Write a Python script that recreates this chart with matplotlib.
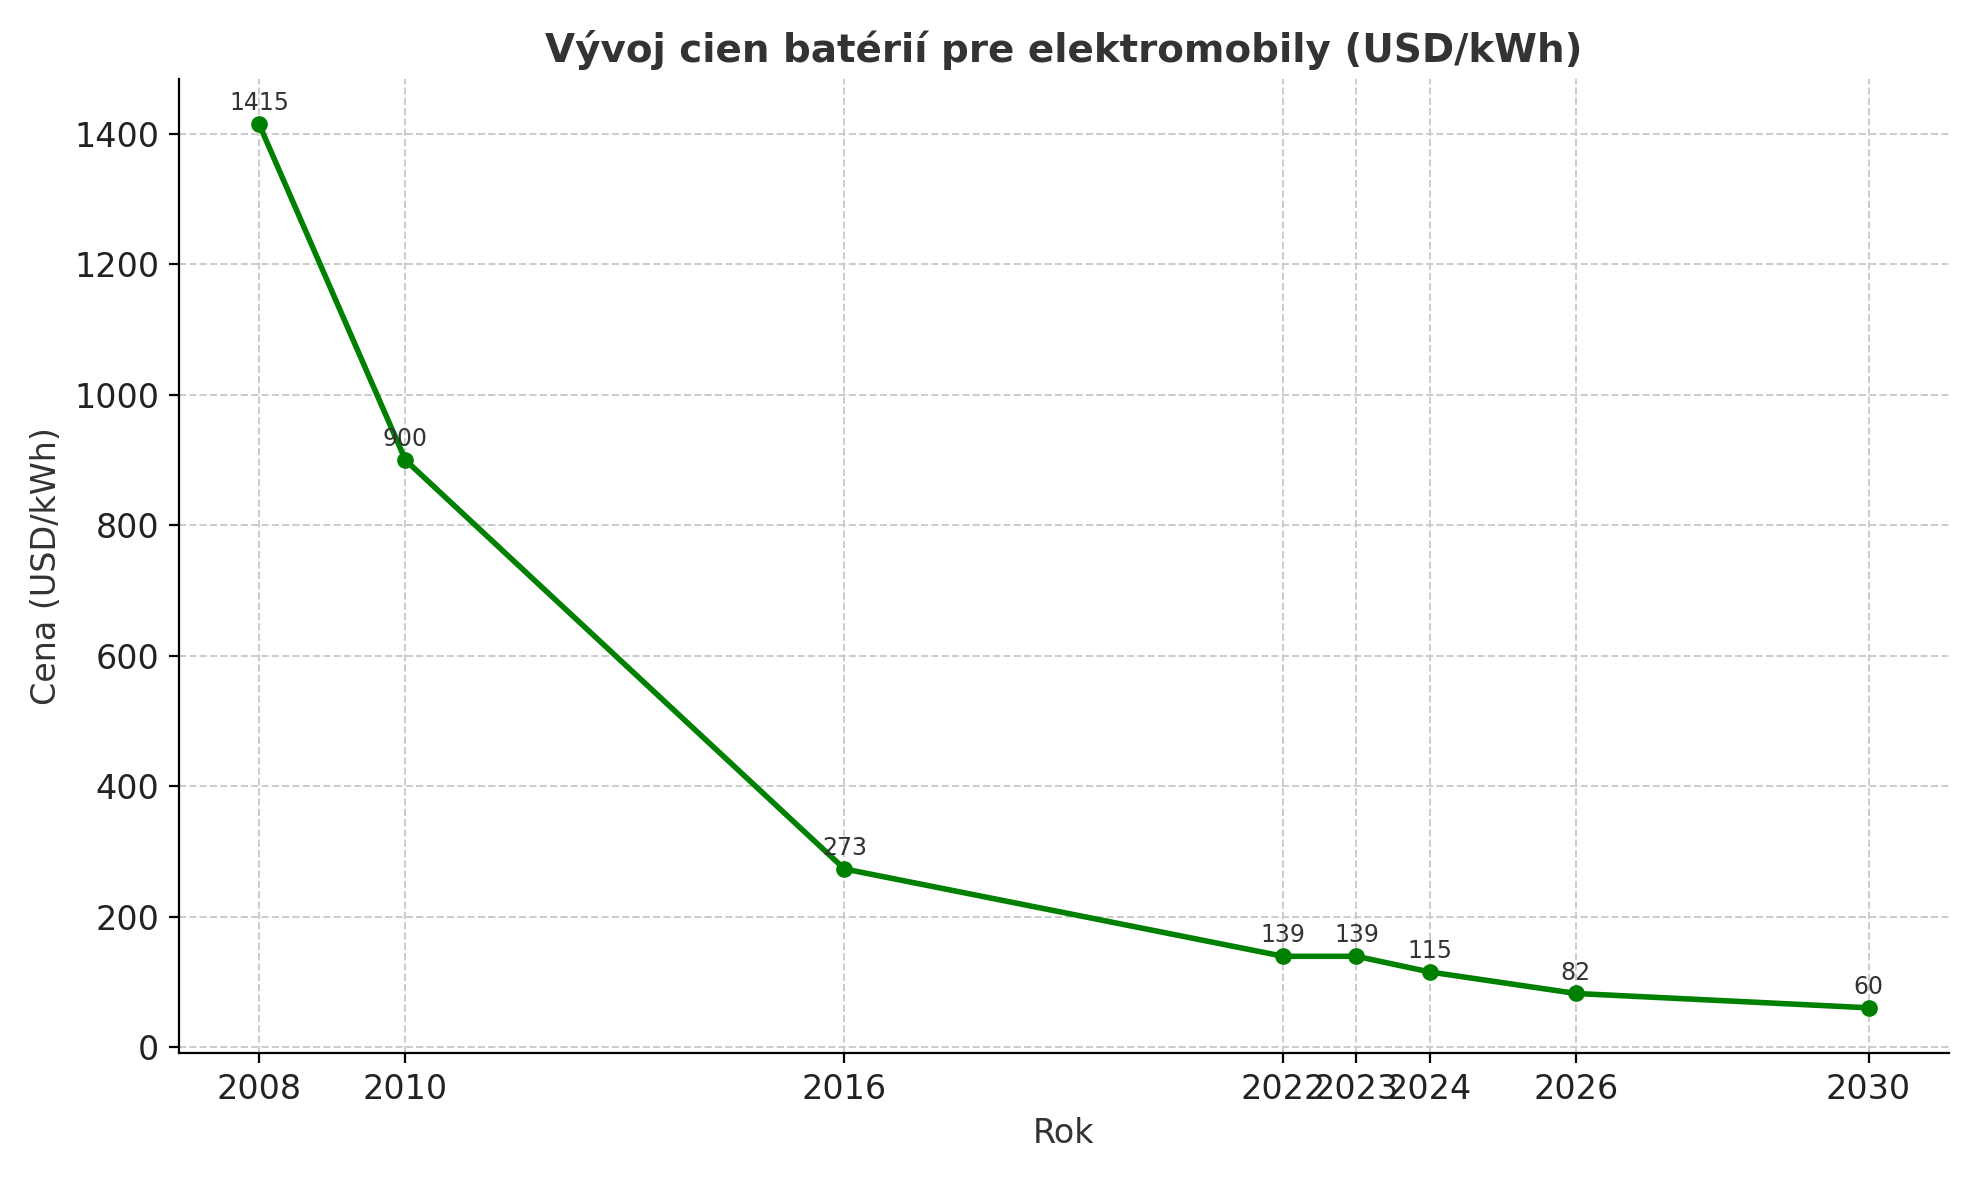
import matplotlib
matplotlib.use("Agg")
import matplotlib.pyplot as plt

years = [2008, 2010, 2016, 2022, 2023, 2024, 2026, 2030]
prices = [1415, 900, 273, 139, 139, 115, 82, 60]

fig, ax = plt.subplots(figsize=(9.895, 5.9), dpi=200)
ax.plot(years, prices, color="green", linewidth=2, marker="o", markersize=5)
for x, y in zip(years, prices):
    ax.annotate(str(y), (x, y), textcoords="offset points", xytext=(0, 5),
                ha="center", fontsize=8.5, color="#333333")
ax.set_title("Vývoj cien batérií pre elektromobily (USD/kWh)", fontsize=14,
             fontweight="bold", color="#333333")
ax.set_xlabel("Rok", fontsize=12, color="#333333")
ax.set_ylabel("Cena (USD/kWh)", fontsize=12, color="#333333")
ax.set_xticks(years)
ax.set_xticklabels([str(y) for y in years])
ax.tick_params(labelsize=12, labelcolor="#222222")
ax.grid(True, linestyle="--", color="#cccccc", linewidth=0.7)
ax.spines["top"].set_visible(False)
ax.spines["right"].set_visible(False)
ax.set_ylim(-10, 1485)
plt.tight_layout()
fig.savefig("out.png", dpi=200)
